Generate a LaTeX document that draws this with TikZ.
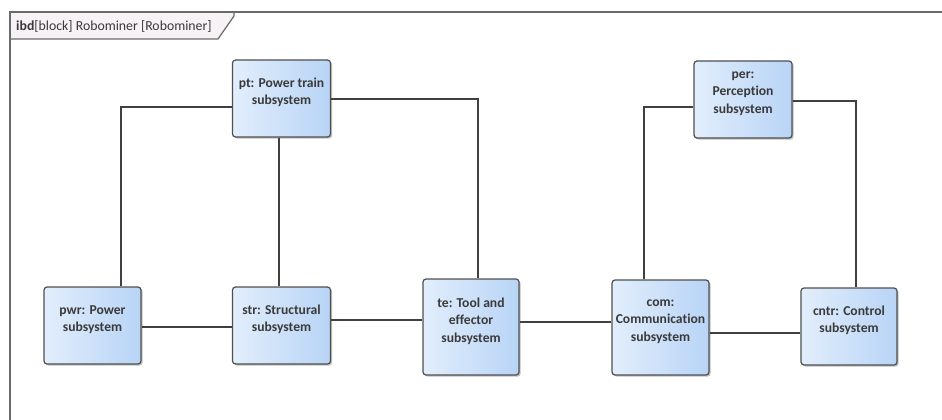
\documentclass[tikz,border=0pt]{standalone}
\usepackage{fontspec}
\setmainfont[RawFeature={-liga;-clig;-dlig}]{Carlito}
\usetikzlibrary{shadows}
\definecolor{partleft}{HTML}{E2EEFC}
\definecolor{partright}{HTML}{B8D4F6}
\definecolor{partborder}{HTML}{505050}
\definecolor{wire}{HTML}{404040}
\definecolor{txt}{HTML}{3A3A3A}
\definecolor{hdrfill}{HTML}{F6F2F6}
\definecolor{framecol}{HTML}{6A6A6A}
\tikzset{
  part/.style={draw=partborder, line width=1.2pt, rounded corners=3pt,
    left color=partleft, right color=partright,
    drop shadow={shadow xshift=1.6pt, shadow yshift=-1.6pt, opacity=0.25, fill=black},
    inner sep=0pt},
  partlabel/.style={font=\fontsize{13.6}{17.5}\selectfont\bfseries, text=txt, align=center, inner sep=0pt},
  wireline/.style={draw=wire, line width=1.1pt},
}
\newcommand{\partbox}[5]{%
  \node[part, minimum width=#4pt, minimum height=#5pt] (#1) at (#2,#3) {};
}
\begin{document}
\begin{tikzpicture}[x=1pt,y=-1pt]
\useasboundingbox (0,0) rectangle (942,420);
\fill[white] (0,0) rectangle (942,420);

% diagram frame and its header tab
\fill[hdrfill] (10,12) -- (234,12) -- (234,16) -- (218,39) -- (10,39) -- cycle;
\draw[framecol, line width=1.2pt] (10,39) -- (218,39) -- (234,16) -- (234,12);
\draw[framecol, line width=1.5pt] (942,12) -- (10,12) -- (10,420);
\node[anchor=west, inner sep=0pt, font=\fontsize{13.8}{15}\selectfont, text=txt] (hdr) at (16,26)
  {\textbf{ibd}[block] Robominer [Robominer]};

% parts
\partbox{pt}{281.5}{98.5}{98}{77}
\partbox{per}{743}{99.5}{98}{77}
\partbox{pwr}{92.5}{325.5}{97}{77}
\partbox{str}{281.5}{325.5}{98}{77}
\partbox{te}{471}{327}{96}{96}
\partbox{com}{660.5}{327.5}{97}{95}
\partbox{cntr}{849}{326.5}{96}{77}

\node[partlabel] (ptl)   at ([yshift=6pt]pt.center)   {pt: Power train\\subsystem};
\node[partlabel] (perl)  at ([yshift=6pt]per.center)  {per:\\Perception\\subsystem};
\node[partlabel] (pwrl)  at ([yshift=6pt]pwr.center)  {pwr: Power\\subsystem};
\node[partlabel] (strl)  at ([yshift=6pt]str.center)  {str: Structural\\subsystem};
\node[partlabel] (tel)   at ([yshift=6pt]te.center)   {te: Tool and\\effector\\subsystem};
\node[partlabel] (coml)  at ([yshift=6pt]com.center)  {com:\\Communication\\subsystem};
\node[partlabel] (cntrl) at ([yshift=6pt]cntr.center) {cntr: Control\\subsystem};

% connectors
\draw[wireline] (pwr.north -| 121,0) |- (pt.west |- 0,107);
\draw[wireline] (pt.south -| 279,0) -- (str.north -| 279,0);
\draw[wireline] (pt.east |- 0,99) -| (te.north -| 478,0);
\draw[wireline] (pwr.east |- 0,327) -- (str.west |- 0,327);
\draw[wireline] (str.east |- 0,320) -- (te.west |- 0,320);
\draw[wireline] (te.east |- 0,322) -- (com.west |- 0,322);
\draw[wireline] (com.north -| 644,0) |- (per.west |- 0,107);
\draw[wireline] (per.east |- 0,101) -| (cntr.north -| 856,0);
\draw[wireline] (com.east |- 0,333) -- (cntr.west |- 0,333);
\end{tikzpicture}
\end{document}
